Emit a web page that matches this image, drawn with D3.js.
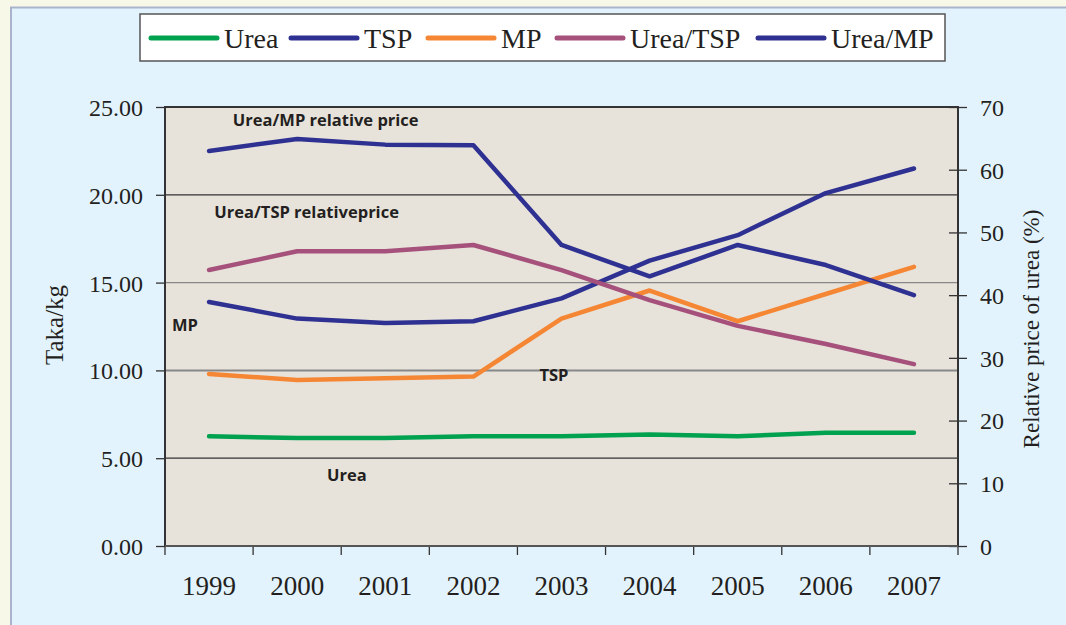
<!DOCTYPE html>
<html lang="en">
<head>
  <meta charset="UTF-8">
  <title>Fertilizer prices</title>
  <script src="https://d3js.org/d3.v7.min.js"></script>
  <style>
    html, body {
      margin: 0;
      padding: 0;
      background: #f8f8e8;
    }
    svg { display: block; }
    .tick text { font-family: "Liberation Serif", serif; fill: #231f20; }
    .note { font-family: "Open Sans", sans-serif; font-weight: bold; font-size: 16.5px; fill: #231f20; }
  </style>
</head>
<body>
  <div id="chart"></div>

  <script>
    // data
    const years = ["1999", "2000", "2001", "2002", "2003", "2004", "2005", "2006", "2007"];
    const urea = [6.25, 6.15, 6.15, 6.25, 6.25, 6.35, 6.25, 6.45, 6.45];
    const tsp = [13.9, 12.95, 12.7, 12.8, 14.1, 16.25, 17.7, 20.1, 21.5];
    const mp = [9.8, 9.45, 9.55, 9.65, 12.95, 14.55, 12.8, 14.35, 15.9];
    const ureaTsp = [44.0, 47.0, 47.0, 48.0, 44.0, 39.2, 35.1, 32.2, 29.0];
    const ureaMp = [63.0, 64.9, 64.0, 63.9, 48.0, 43.0, 48.0, 44.8, 40.0];
    const leftTicks = [0, 5, 10, 15, 20, 25];
    const rightTicks = [0, 10, 20, 30, 40, 50, 60, 70];

    const series = [
      { name: "Urea", values: urea, axis: "left", color: "#00a14f" },
      { name: "TSP", values: tsp, axis: "left", color: "#2e3192" },
      { name: "MP", values: mp, axis: "left", color: "#f58634" },
      { name: "Urea/TSP", values: ureaTsp, axis: "right", color: "#a5517c" },
      { name: "Urea/MP", values: ureaMp, axis: "right", color: "#2e3192" }
    ];

    // in-chart notes, placed in data units (band index, Taka/kg)
    const notes = [
      { text: "Urea/MP relative price", i: 0.27, v: 24.25 },
      { text: "Urea/TSP relativeprice", i: 0.06, v: 19.0 },
      { text: "MP", i: -0.42, v: 12.6 },
      { text: "TSP", i: 3.75, v: 9.7 },
      { text: "Urea", i: 1.34, v: 4.05 }
    ];

    const W = 1066, H = 625;
    const m = { left: 165, right: 108, top: 107, bottom: 79 };
    const iw = W - m.left - m.right, ih = H - m.top - m.bottom;

    const svg = d3.select("#chart").append("svg")
      .attr("width", W)
      .attr("height", H);

    // light blue panel
    svg.append("rect")
      .attr("x", 11).attr("y", 7.5)
      .attr("width", W).attr("height", H)
      .attr("fill", "#e3f3fd")
      .attr("stroke", "#a9b4cc")
      .attr("stroke-width", 2);

    const x = d3.scaleBand().domain(years).range([0, iw]);
    const yL = d3.scaleLinear().domain([0, 25]).range([ih, 0]);
    const yR = d3.scaleLinear().domain([0, 70]).range([ih, 0]);

    const g = svg.append("g").attr("transform", `translate(${m.left},${m.top})`);

    g.append("rect")
      .attr("width", iw).attr("height", ih)
      .attr("fill", "#e7e3da");

    // grid
    g.selectAll(".grid")
      .data(leftTicks.filter(d => d > 0 && d < 25))
      .join("line")
      .attr("x1", 0).attr("x2", iw)
      .attr("y1", d => yL(d)).attr("y2", d => yL(d))
      .attr("stroke", d => (d === 20 || d === 5) ? "#333" : "#888")
      .attr("stroke-width", d => d === 10 ? 2 : 1.3);

    // left axis
    const axL = g.append("g")
      .call(d3.axisLeft(yL).tickValues(leftTicks).tickFormat(d3.format(".2f")).tickSize(9).tickPadding(13));
    axL.select(".domain").remove();
    axL.selectAll(".tick line").attr("stroke", "#333").attr("stroke-width", 1.3);
    axL.selectAll(".tick text").attr("font-size", 24).attr("dy", "0.35em");

    // right axis
    const axR = g.append("g").attr("transform", `translate(${iw},0)`)
      .call(d3.axisRight(yR).tickValues(rightTicks).tickSize(9).tickPadding(13));
    axR.select(".domain").remove();
    axR.selectAll(".tick line").attr("x1", -9).attr("stroke", "#333").attr("stroke-width", 1.3);
    axR.selectAll(".tick text").attr("font-size", 24).attr("dy", "0.35em");

    // bottom axis: ticks at band edges
    const edges = d3.range(years.length + 1).map(i => i * x.step());
    g.selectAll(".xtick")
      .data(edges)
      .join("line")
      .attr("x1", d => d).attr("x2", d => d)
      .attr("y1", ih).attr("y2", ih + 9)
      .attr("stroke", "#333").attr("stroke-width", 1.3);
    g.selectAll(".xlab")
      .data(years)
      .join("text")
      .attr("x", d => x(d) + x.bandwidth() / 2)
      .attr("y", ih + 49)
      .attr("text-anchor", "middle")
      .attr("font-family", "Liberation Serif, serif")
      .attr("font-size", 27)
      .attr("fill", "#231f20")
      .text(d => d);

    // frame
    g.append("path")
      .attr("d", `M0,${ih}V0H${iw}V${ih}`)
      .attr("fill", "none").attr("stroke", "#333").attr("stroke-width", 2);
    g.append("line")
      .attr("x1", 0).attr("x2", iw).attr("y1", ih).attr("y2", ih)
      .attr("stroke", "#555").attr("stroke-width", 2);

    // lines
    series.forEach(s => {
      const yy = s.axis === "left" ? yL : yR;
      const line = d3.line()
        .x((d, i) => x(years[i]) + x.bandwidth() / 2)
        .y(d => yy(d));
      g.append("path")
        .datum(s.values)
        .attr("d", line)
        .attr("fill", "none")
        .attr("stroke", s.color)
        .attr("stroke-width", 4.5)
        .attr("stroke-linecap", "round")
        .attr("stroke-linejoin", "round");
    });

    // notes
    g.selectAll(".note")
      .data(notes)
      .join("text")
      .attr("class", "note")
      .attr("x", d => d.i * x.step() + x.bandwidth() / 2)
      .attr("y", d => yL(d.v))
      .attr("dy", "0.35em")
      .text(d => d.text);

    // axis titles
    svg.append("text")
      .attr("transform", `translate(63,325) rotate(-90)`)
      .attr("text-anchor", "middle")
      .attr("font-family", "Liberation Serif, serif")
      .attr("font-size", 25)
      .attr("fill", "#231f20")
      .text("Taka/kg");
    svg.append("text")
      .attr("transform", `translate(1039,329) rotate(-90)`)
      .attr("text-anchor", "middle")
      .attr("font-family", "Liberation Serif, serif")
      .attr("font-size", 23)
      .attr("fill", "#231f20")
      .text("Relative price of urea (%)");

    // legend
    const lg = svg.append("g").attr("transform", "translate(140,14)");
    lg.append("rect")
      .attr("width", 805).attr("height", 47)
      .attr("fill", "#fff")
      .attr("stroke", "#555").attr("stroke-width", 1.5);
    const legendX = [11, 151, 288, 417, 618];
    series.forEach((s, i) => {
      const it = lg.append("g").attr("transform", `translate(${legendX[i]},24)`);
      it.append("line")
        .attr("x1", 0).attr("x2", 66)
        .attr("stroke", s.color).attr("stroke-width", 5).attr("stroke-linecap", "round");
      it.append("text")
        .attr("x", 73).attr("dy", "0.35em")
        .attr("font-family", "Liberation Serif, serif")
        .attr("font-size", 28)
        .attr("fill", "#231f20")
        .text(s.name);
    });
  </script>
</body>
</html>
